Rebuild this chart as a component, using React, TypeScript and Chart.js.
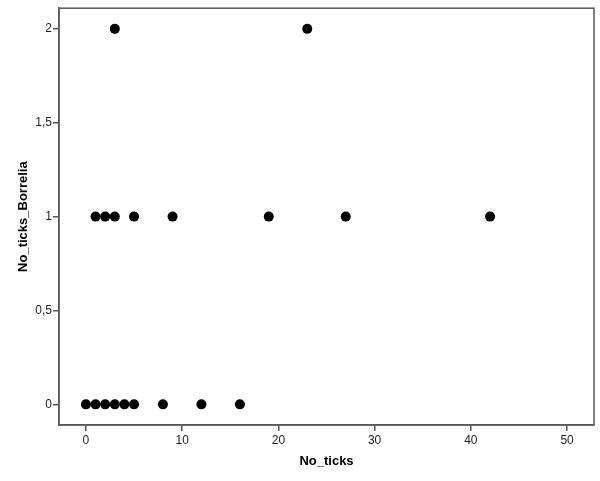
import React, { useEffect, useRef } from "react";
import { Chart, registerables } from "chart.js";

Chart.register(...registerables);

const xValues = [0, 1, 2, 3, 4, 5, 8, 12, 16, 1, 2, 3, 5, 9, 19, 27, 42, 3, 23];
const yValues = [0, 0, 0, 0, 0, 0, 0, 0, 0, 1, 1, 1, 1, 1, 1, 1, 1, 2, 2];
const xTicks = [0, 10, 20, 30, 40, 50];
const yTicks = [0, 0.5, 1, 1.5, 2];
const xTitle = "No_ticks";
const yTitle = "No_ticks_Borrelia";

const FONT = "Arial, 'Liberation Sans', sans-serif";

const framePlugin = {
  id: "frame",
  afterDraw(chart: any) {
    const { ctx, chartArea } = chart;
    ctx.save();
    ctx.strokeStyle = "#5a5a5a";
    ctx.lineWidth = 1.5;
    ctx.strokeRect(chartArea.left, chartArea.top, chartArea.right - chartArea.left, chartArea.bottom - chartArea.top);
    ctx.restore();
  },
};

export default function App() {
  const ref = useRef<HTMLCanvasElement | null>(null);
  useEffect(() => {
    if (!ref.current) return;
    const data = xValues.map((x, i) => ({ x, y: yValues[i] }));
    const chart = new Chart(ref.current, {
      type: "scatter",
      data: {
        datasets: [
          {
            data,
            backgroundColor: "#000",
            borderColor: "#000",
            borderWidth: 0,
            pointRadius: 5,
            pointHoverRadius: 5,
          },
        ],
      },
      plugins: [framePlugin],
      options: {
        responsive: false,
        animation: false,
        devicePixelRatio: 1,
        layout: { padding: { top: 5, right: 6, left: 0, bottom: 0 } },
        plugins: { legend: { display: false }, tooltip: { enabled: false } },
        scales: {
          x: {
            type: "linear",
            min: -2.8,
            max: 52.8,
            afterBuildTicks: (s: any) => {
              s.ticks = xTicks.map((v) => ({ value: v }));
            },
            afterFit: (s: any) => {
              s.height = 56;
            },
            grid: { display: true, drawOnChartArea: false, drawTicks: true, tickLength: 6, color: "#555", lineWidth: 1.5 },
            border: { display: true, color: "#5a5a5a", width: 1.5 },
            ticks: {
              padding: 2,
              color: "#222",
              font: { family: FONT, size: 12 },
              maxRotation: 0,
              callback: (v: any) => String(v),
            },
            title: {
              display: true,
              text: xTitle,
              color: "#000",
              font: { family: FONT, size: 13, weight: "bold" },
              padding: { top: 0, bottom: 12 },
            },
          },
          y: {
            type: "linear",
            min: -0.11,
            max: 2.11,
            afterBuildTicks: (s: any) => {
              s.ticks = yTicks.map((v) => ({ value: v }));
            },
            afterFit: (s: any) => {
              s.width = 59;
            },
            grid: { display: true, drawOnChartArea: false, drawTicks: true, tickLength: 6, color: "#555", lineWidth: 1.5 },
            border: { display: true, color: "#5a5a5a", width: 1.5 },
            ticks: {
              padding: 1,
              color: "#222",
              font: { family: FONT, size: 12 },
              callback: (v: any) => String(v).replace(".", ","),
            },
            title: {
              display: true,
              text: yTitle,
              color: "#000",
              font: { family: FONT, size: 13, weight: "bold" },
              padding: { top: 16, bottom: 0 },
            },
          },
        },
      },
    } as any);
    return () => chart.destroy();
  }, []);
  return (
    <div style={{ position: "absolute", left: 0, top: 0, width: 600, height: 481, background: "#fff" }}>
      <canvas ref={ref} width={600} height={481} style={{ display: "block" }} />
    </div>
  );
}
